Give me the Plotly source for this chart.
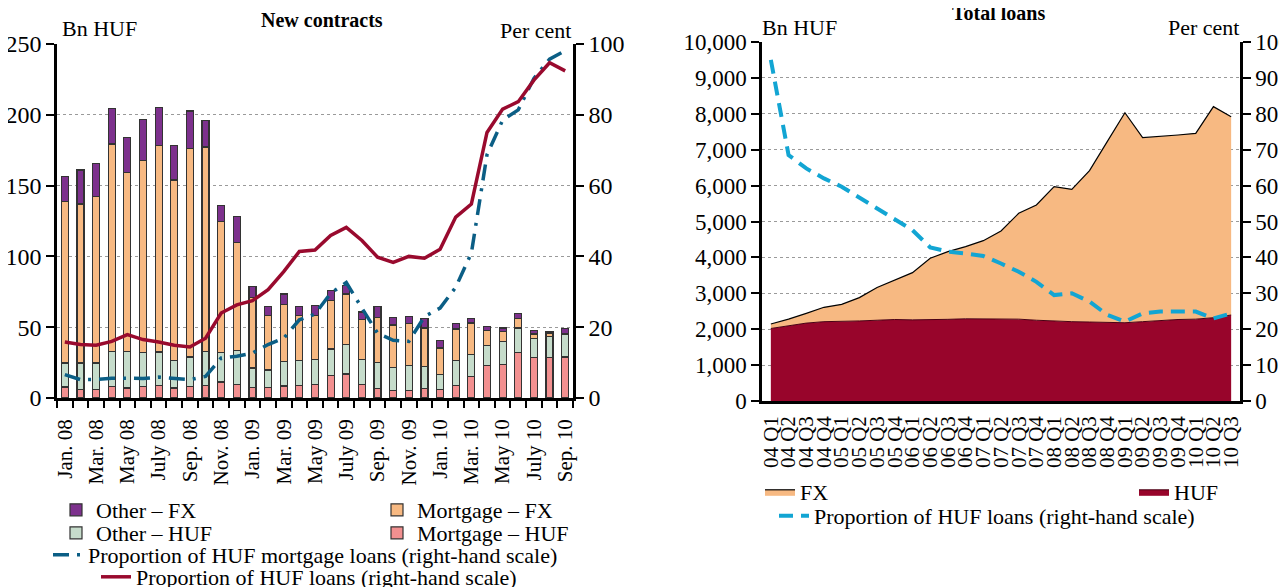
import numpy as np
import plotly.graph_objects as go

# ---------------- Left chart: New contracts ----------------
months = ["Jan. 08", "Feb. 08", "Mar. 08", "Apr. 08", "May 08", "June 08", "July 08", "Aug. 08",
          "Sep. 08", "Oct. 08", "Nov. 08", "Dec. 08",
          "Jan. 09", "Feb. 09", "Mar. 09", "Apr. 09", "May 09", "June 09", "July 09", "Aug. 09",
          "Sep. 09", "Oct. 09", "Nov. 09", "Dec. 09",
          "Jan. 10", "Feb. 10", "Mar. 10", "Apr. 10", "May 10", "June 10", "July 10", "Aug. 10",
          "Sep. 10"]

mortgage_huf = [7.8, 5.9, 5.9, 8.2, 7.0, 8.2, 8.9, 7.0, 8.2, 8.9, 11.3, 9.6,
                7.3, 7.3, 8.5, 8.9, 9.4, 15.8, 16.9, 9.4, 6.6, 5.4, 5.4, 6.8,
                5.9, 8.9, 15.3, 23.0, 23.5, 32.2, 28.7, 28.7, 28.9]
other_huf = [16.9, 18.8, 18.8, 24.7, 25.9, 24.0, 23.6, 19.6, 20.7, 24.0, 20.9, 23.8,
             13.9, 12.5, 17.4, 17.7, 17.6, 18.8, 20.7, 17.6, 18.6, 16.2, 17.4, 15.5,
             10.6, 17.7, 15.3, 14.2, 16.5, 17.2, 13.6, 14.8, 15.8]
mortgage_fx = [114.3, 112.3, 117.6, 146.5, 126.6, 135.7, 145.8, 127.4, 147.1, 144.4, 92.2, 76.4,
               49.8, 38.3, 40.0, 31.5, 31.1, 34.1, 35.8, 28.7, 31.9, 29.9, 29.6, 27.1,
               18.8, 22.1, 22.3, 10.5, 7.0, 7.0, 2.9, 1.9, 0.7]
other_fx = [17.4, 24.0, 23.5, 25.2, 24.2, 28.7, 27.0, 24.3, 26.7, 18.6, 11.3, 18.1,
            7.8, 6.6, 7.5, 6.6, 7.0, 7.3, 5.9, 5.0, 7.6, 5.4, 5.2, 7.0,
            5.2, 3.7, 3.5, 2.9, 2.4, 3.1, 2.3, 1.2, 3.5]
share_huf_loans = [15.8, 15.1, 14.9, 16.0, 17.9, 16.5, 15.8, 14.9, 14.4, 16.9, 24.0, 26.3,
                   27.5, 30.6, 35.7, 41.4, 41.8, 45.9, 48.2, 44.5, 39.8, 38.3, 40.0, 39.5,
                   42.0, 51.1, 54.8, 75.0, 81.6, 83.7, 89.8, 94.7, 92.4]
share_huf_mortgage = [6.6, 5.2, 5.2, 5.6, 5.6, 5.5, 5.9, 5.5, 5.2, 6.1, 11.3, 11.8,
                      12.7, 15.1, 16.9, 22.1, 23.7, 29.6, 32.6, 25.4, 18.3, 16.3, 16.0, 23.0,
                      25.4, 31.3, 40.9, 68.7, 78.5, 81.4, 90.3, 95.7, 98.1]

# ---------------- Right chart: Total loans ----------------
quarters = ["04 Q1", "04 Q2", "04 Q3", "04 Q4", "05 Q1", "05 Q2", "05 Q3", "05 Q4",
            "06 Q1", "06 Q2", "06 Q3", "06 Q4", "07 Q1", "07 Q2", "07 Q3", "07 Q4",
            "08 Q1", "08 Q2", "08 Q3", "08 Q4", "09 Q1", "09 Q2", "09 Q3", "09 Q4",
            "10 Q1", "10 Q2", "10 Q3"]
huf_stock = [2020, 2100, 2170, 2210, 2215, 2230, 2250, 2270, 2260, 2260, 2275, 2290,
             2290, 2290, 2280, 2250, 2220, 2210, 2200, 2190, 2180, 2210, 2250, 2270,
             2280, 2320, 2395]
fx_stock = [125, 180, 270, 400, 475, 650, 910, 1100, 1315, 1715, 1885, 2010,
            2176, 2445, 2948, 3210, 3750, 3686, 4216, 5034, 5850, 5125, 5113, 5140,
            5176, 5880, 5525]
share_huf_total = [95.0, 68.5, 64.8, 62.0, 59.7, 56.7, 53.9, 50.9, 47.6, 42.8, 41.6, 41.1,
                   40.4, 38.3, 36.0, 33.2, 29.5, 30.0, 27.7, 24.0, 22.1, 24.4, 24.9, 24.9,
                   24.9, 23.0, 24.4]

W, H = 1287, 587
OFF = 8  # page body margin in the browser
FONT = "Liberation Serif"


def px_x(p):
    return (p - OFF) / W


def px_y(p):
    return 1 - (p - OFF) / H


C_OFX = "#7d318d"
C_MFX = "#f7b982"
C_OH = "#c6dccb"
C_MH = "#f29090"
C_RED = "#990a2e"
C_BLUE = "#0b5e85"
C_CYAN = "#12a5d3"
C_HUF = "#98052b"

xi = list(range(len(months)))
fig = go.Figure()

bar_line = dict(color="#333333", width=1.2)
fig.add_trace(go.Bar(x=xi, y=mortgage_huf, name="Mortgage – HUF", marker=dict(color=C_MH, line=bar_line),
                     width=0.45, xaxis="x", yaxis="y", legend="legend4"))
fig.add_trace(go.Bar(x=xi, y=other_huf, name="Other – HUF", marker=dict(color=C_OH, line=bar_line),
                     width=0.45, xaxis="x", yaxis="y", legend="legend3"))
fig.add_trace(go.Bar(x=xi, y=mortgage_fx, name="Mortgage – FX", marker=dict(color=C_MFX, line=bar_line),
                     width=0.45, xaxis="x", yaxis="y", legend="legend2"))
fig.add_trace(go.Bar(x=xi, y=other_fx, name="Other – FX", marker=dict(color=C_OFX, line=bar_line),
                     width=0.45, xaxis="x", yaxis="y", legend="legend"))
fig.add_trace(go.Scatter(x=xi, y=share_huf_mortgage, mode="lines",
                         name="Proportion of HUF mortgage loans (right-hand scale)",
                         line=dict(color=C_BLUE, width=3.5, dash="16px,8px,3px,8px"),
                         xaxis="x", yaxis="y2", legend="legend5"))
fig.add_trace(go.Scatter(x=xi, y=share_huf_loans, mode="lines",
                         name="Proportion of HUF loans (right-hand scale)",
                         line=dict(color=C_RED, width=3.5),
                         xaxis="x", yaxis="y2", legend="legend6"))

# right chart
fig.add_trace(go.Scatter(x=quarters, y=huf_stock, name="HUF", stackgroup="one", mode="lines",
                         line=dict(color="#4a0013", width=1), fillcolor=C_HUF,
                         xaxis="x2", yaxis="y3", legend="legend8"))
fig.add_trace(go.Scatter(x=quarters, y=fx_stock, name="FX", stackgroup="one", mode="lines",
                         line=dict(color="black", width=1.2), fillcolor=C_MFX,
                         xaxis="x2", yaxis="y3", legend="legend7"))
fig.add_trace(go.Scatter(x=quarters, y=share_huf_total, mode="lines",
                         name="Proportion of HUF loans (right-hand scale)",
                         line=dict(color=C_CYAN, width=4, dash="14px,8px"),
                         xaxis="x2", yaxis="y4", legend="legend9"))

axis_line = dict(showline=True, linecolor="black", linewidth=2.5, zeroline=False)

left_dom_x = [px_x(57), px_x(573)]
left_dom_y = [px_y(398), px_y(44)]
right_dom_x = [px_x(762), px_x(1240)]
right_dom_y = [px_y(401), px_y(42)]

fig.update_layout(
    width=W, height=H,
    margin=dict(l=0, r=0, t=0, b=0, autoexpand=False),
    paper_bgcolor="white", plot_bgcolor="white",
    barmode="stack",
    font=dict(family=FONT, color="black"),
    xaxis=dict(domain=left_dom_x, anchor="y", range=[-0.5, 32.5],
               tickmode="array", tickvals=xi[::2], ticktext=months[::2],
               tickangle=-90, ticks="", ticklabelstandoff=10,
               minor=dict(ticks="outside", tick0=-0.5, dtick=1, ticklen=7, tickwidth=2, tickcolor="black"),
               showgrid=False, tickfont=dict(family=FONT, size=21, color="black"), **axis_line),
    yaxis=dict(domain=left_dom_y, anchor="x", range=[0, 250], dtick=50, ticks="outside",
               ticklen=8, tickwidth=2, tickcolor="black",
               showgrid=True, gridcolor="#9a9a9a", griddash="dot", gridwidth=1.3,
               tickfont=dict(family=FONT, size=24, color="black"), **axis_line),
    yaxis2=dict(overlaying="y", side="right", anchor="x", range=[0, 100], dtick=20,
                ticks="outside", ticklen=8, tickwidth=2, tickcolor="black", showgrid=False,
                tickfont=dict(family=FONT, size=24, color="black"), **axis_line),
    xaxis2=dict(domain=right_dom_x, anchor="y3", range=[-0.5, 26.5], type="category",
                tickmode="array", tickvals=quarters, ticktext=quarters,
                tickangle=-90, ticks="", ticklabelstandoff=4, showgrid=False,
                tickfont=dict(family=FONT, size=21, color="black"), **axis_line),
    yaxis3=dict(domain=right_dom_y, anchor="x2", range=[0, 10000], dtick=1000, tickformat=",",
                ticks="outside", ticklen=8, tickwidth=2, tickcolor="black",
                showgrid=True, gridcolor="#9a9a9a", griddash="dot", gridwidth=1.3,
                tickfont=dict(family=FONT, size=23, color="black"), **axis_line),
    yaxis4=dict(overlaying="y3", side="right", anchor="x2", range=[0, 100], dtick=10,
                ticks="outside", ticklen=8, tickwidth=2, tickcolor="black", showgrid=False,
                tickfont=dict(family=FONT, size=23, color="black"), **axis_line),
    showlegend=True,
)

leg_font = dict(family=FONT, size=22, color="black")
leg_base = dict(orientation="h", xanchor="left", yanchor="middle", bgcolor="rgba(0,0,0,0)",
                font=leg_font, itemwidth=30, xref="container", yref="container")


def leg(xp, yp):
    return dict(x=px_x(xp), y=px_y(yp), **leg_base)


fig.update_layout(
    legend=leg(56, 510),
    legend2=leg(377, 510),
    legend3=leg(56, 533),
    legend4=leg(377, 533),
    legend5=leg(48, 555),
    legend6=leg(96, 577),
    legend7=leg(760, 492),
    legend8=leg(1134, 492),
    legend9=leg(774, 516),
)

ann_font = dict(family=FONT, size=22, color="black")
annotations = [
    dict(text="Bn HUF", x=px_x(60), y=px_y(28), xanchor="left", yanchor="middle", font=ann_font),
    dict(text="Per cent", x=px_x(573), y=px_y(30), xanchor="right", yanchor="middle", font=ann_font),
    dict(text="<b>New contracts</b>", x=px_x(322), y=px_y(20), xanchor="center", yanchor="middle",
         font=dict(family=FONT, size=20, color="black")),
    dict(text="Bn HUF", x=px_x(760), y=px_y(27), xanchor="left", yanchor="middle", font=ann_font),
    dict(text="Per cent", x=px_x(1241), y=px_y(27), xanchor="right", yanchor="middle", font=ann_font),
    dict(text="<b>Total loans</b>", x=px_x(998), y=px_y(13), xanchor="center", yanchor="middle",
         font=dict(family=FONT, size=20, color="black")),
]
for a in annotations:
    a.update(xref="paper", yref="paper", showarrow=False)
fig.update_layout(annotations=annotations)

fig.write_html("out.html")
